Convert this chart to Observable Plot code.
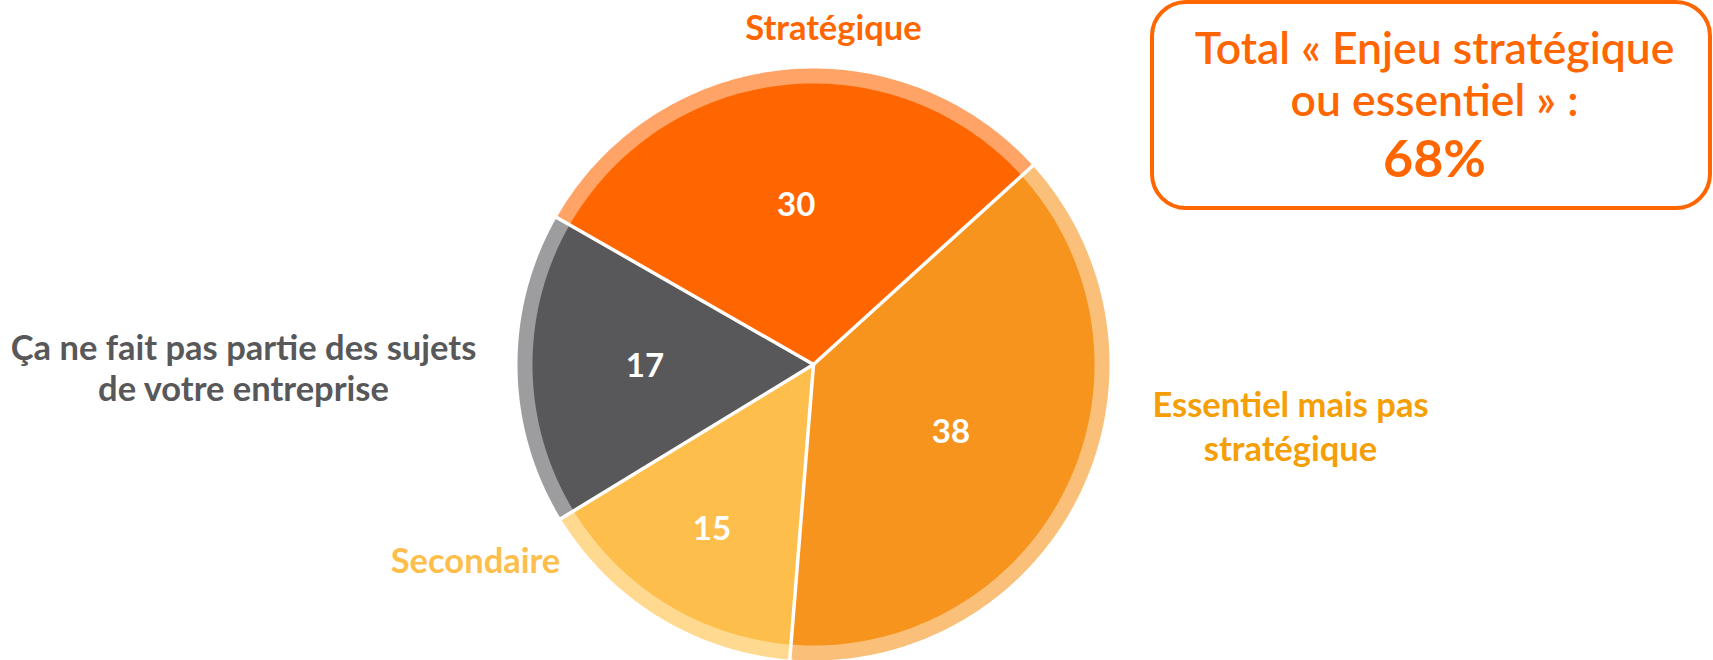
<!DOCTYPE html>
<html>
<head>
<meta charset="utf-8">
<script src="https://cdn.jsdelivr.net/npm/d3@7"></script>
<script src="https://cdn.jsdelivr.net/npm/@observablehq/plot@0.6"></script>
<style>
  html, body { margin: 0; padding: 0; background: #ffffff; }
  #chart svg { display: block; }
</style>
</head>
<body>
<div id="chart"></div>
<script>
// ---------- data ----------
const categories = [
  "Stratégique",
  "Essentiel mais pas\nstratégique",
  "Secondaire",
  "Ça ne fait pas partie des sujets\nde votre entreprise"
];
const values = [30, 38, 15, 17];
const sliceColors = ["#FF6600", "#F7941E", "#FDBE4B", "#58585A"];
const ringColors  = ["#FFA466", "#FAC07A", "#FED98F", "#9D9D9F"];
const labelColors = ["#FF6600", "#F59E05", "#FDBE4B", "#58585A"];
const totalLines = ["Total « Enjeu stratégique", "ou essentiel » :", "68%"];

// ---------- layout ----------
const W = 1713, H = 660;
const cx = 813, cy = 364, R = 296, rInner = 281;
const startDeg = -60.2;              // start of first slice, clockwise from 12 o'clock
const valueRadius = [0.57, 0.545, 0.69, 0.6];   // fraction of inner radius for value labels
const ux = px => (px - cx) / R;      // pixel -> unit helpers for annotations
const uy = py => (cy - py) / R;
const catLayout = [
  {x: 833,  y: 39,  lh: 1.2},
  {x: 1290, y: 460, lh: 1.25},
  {x: 475,  y: 572, lh: 1.2},
  {x: 243,  y: 400, lh: 1.17}
];

const pie = d3.pie().sort(null)
  .startAngle(startDeg * Math.PI / 180)
  .endAngle(startDeg * Math.PI / 180 + 2 * Math.PI);
const arcs = pie(values).map((a, i) => ({...a, i}));

function wedge(a, r, colors) {
  const n = 120;
  const pts = [{k: a.i, c: colors[a.i], x: 0, y: 0}];
  for (let j = 0; j <= n; ++j) {
    const t = a.startAngle + (a.endAngle - a.startAngle) * j / n;
    pts.push({k: a.i, c: colors[a.i], x: r * Math.sin(t), y: r * Math.cos(t)});
  }
  return pts;
}
const ringPts = arcs.flatMap(a => wedge(a, 1, ringColors));
const slicePts = arcs.flatMap(a => wedge(a, rInner / R, sliceColors));
const seps = arcs.map(a => ({a: a.startAngle}));
const valueLbl = arcs.map(a => {
  const m = (a.startAngle + a.endAngle) / 2, r = valueRadius[a.i] * rInner / R;
  return {v: String(values[a.i]), x: r * Math.sin(m), y: r * Math.cos(m)};
});
const catLbl = categories.map((c, i) => ({t: c, c: labelColors[i], x: ux(catLayout[i].x), y: uy(catLayout[i].y), lh: catLayout[i].lh}));

const font = "Lato, 'Open Sans', sans-serif";

const marks = [
  Plot.line(ringPts, {x: "x", y: "y", z: "k", fill: "c", stroke: "none", curve: "linear"}),
  Plot.line(slicePts, {x: "x", y: "y", z: "k", fill: "c", stroke: "none", curve: "linear"}),
  Plot.link(seps, {x1: 0, y1: 0, x2: d => 1.01 * Math.sin(d.a), y2: d => 1.01 * Math.cos(d.a), stroke: "#ffffff", strokeWidth: 3.5}),
  Plot.text(valueLbl, {x: "x", y: "y", text: "v", fill: "#ffffff", fontSize: 33, fontWeight: "bold", fontFamily: font}),
];
catLbl.forEach(d => {
  marks.push(Plot.text([d], {x: "x", y: "y", text: "t", fill: d.c, fontSize: 34.5, fontWeight: "bold",
    fontFamily: font, lineAnchor: "bottom", lineHeight: d.lh, textAnchor: "middle"}));
});
// total box
marks.push(Plot.rect([{}], {x1: ux(1152), x2: ux(1710), y1: uy(2), y2: uy(208), rx: 34, fill: "none", stroke: "#FF6600", strokeWidth: 4, inset: 0}));
const boxBase = [63, 115, 176];
const boxSize = [44.5, 44.5, 52];
totalLines.forEach((t, i) => {
  marks.push(Plot.text([t], {x: ux(1434), y: uy(boxBase[i]), text: d => d, fill: "#FF6600", fontSize: boxSize[i],
    fontWeight: i === 2 ? "bold" : 600, fontFamily: font, lineAnchor: "bottom"}));
});

const chart = Plot.plot({
  width: W, height: H,
  margin: 0,
  x: {domain: [-1, 1], range: [cx - R, cx + R], axis: null},
  y: {domain: [-1, 1], range: [cy + R, cy - R], axis: null},
  color: {type: "identity"},
  style: {background: "#ffffff", overflow: "visible"},
  marks
});
document.getElementById("chart").appendChild(chart);
</script>
</body>
</html>
